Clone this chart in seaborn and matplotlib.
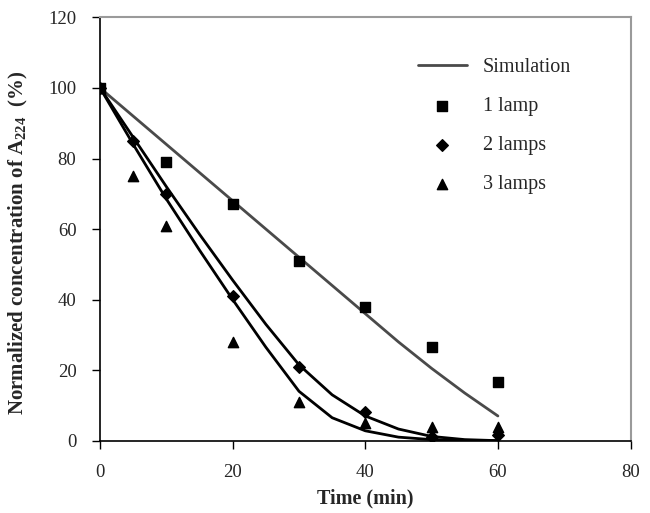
import matplotlib
matplotlib.use("Agg")
import matplotlib.pyplot as plt
import pandas as pd
import seaborn as sns

# -----------------------------
# Data
# -----------------------------

time_1lamp = [0, 10, 20, 30, 40, 50, 60]
conc_1lamp = [100, 79, 67, 51, 38, 26.5, 16.5]

time_2lamps = [0, 5, 10, 20, 30, 40, 50, 60]
conc_2lamps = [100, 85, 70, 41, 21, 8, 1, 1.5]

time_3lamps = [0, 5, 10, 20, 30, 40, 50, 60]
conc_3lamps = [100, 75, 61, 28, 11, 5, 4, 4]

sim_time = [0, 5, 10, 15, 20, 25, 30, 35, 40, 45, 50, 55, 60]
sim_1lamp = [100, 92, 84, 76, 68, 60, 52, 44, 36, 28, 20.5, 13.5, 7]
sim_2lamps = [100, 86, 72, 58.5, 45.5, 33, 21.5, 13, 7, 3.3, 1.2, 0.3, 0]
sim_3lamps = [100, 84, 68.5, 54, 40, 26.5, 14, 6.5, 2.8, 1, 0.3, 0, 0]

# -----------------------------
# Style
# -----------------------------

sns.set_style("white")
plt.rcParams["font.family"] = ["Liberation Serif", "DejaVu Serif"]
plt.rcParams["mathtext.default"] = "regular"

fig = plt.figure(figsize=(6.5, 5.13), dpi=100)
ax = fig.add_axes([0.154, 0.141, 0.816, 0.825])

sim_df = pd.DataFrame({"t": sim_time, "s1": sim_1lamp, "s2": sim_2lamps, "s3": sim_3lamps})

sns.lineplot(data=sim_df, x="t", y="s1", color="#4a4a4a", linewidth=2.0, ax=ax, label="Simulation")
sns.lineplot(data=sim_df, x="t", y="s2", color="black", linewidth=2.0, ax=ax)
sns.lineplot(data=sim_df, x="t", y="s3", color="black", linewidth=2.0, ax=ax)

ax.scatter(time_1lamp, conc_1lamp, marker="s", s=45, color="black", label="1 lamp", zorder=3)
ax.scatter(time_2lamps, conc_2lamps, marker="D", s=35, color="black", label="2 lamps", zorder=3)
ax.scatter(time_3lamps, conc_3lamps, marker="^", s=55, color="black", label="3 lamps", zorder=3)

ax.set_xlim(0, 80)
ax.set_ylim(0, 120)
ax.set_xticks([0, 20, 40, 60, 80])
ax.set_yticks([0, 20, 40, 60, 80, 100, 120])

ax.tick_params(direction="out", length=6, width=1, labelsize=13.5, color="black",
               left=True, bottom=True, pad=11)

for side in ["left", "bottom"]:
    ax.spines[side].set_color("black")
    ax.spines[side].set_linewidth(1.2)
for side in ["top", "right"]:
    ax.spines[side].set_color("#9a9a9a")
    ax.spines[side].set_linewidth(1.5)

ax.set_xlabel("Time (min)", fontsize=14.5, fontweight="bold", labelpad=5)
ax.set_ylabel("Normalized concentration of A$_{224}$  (%)", fontsize=15,
              fontweight="bold")
ax.yaxis.set_label_coords(-0.132, 0.467)

ax.legend(loc="upper right", bbox_to_anchor=(0.922, 0.948), frameon=False,
          fontsize=14.5, labelspacing=1.0, handlelength=2.4, handletextpad=0.8)

fig.savefig("out.png", dpi=100)
plt.close(fig)
